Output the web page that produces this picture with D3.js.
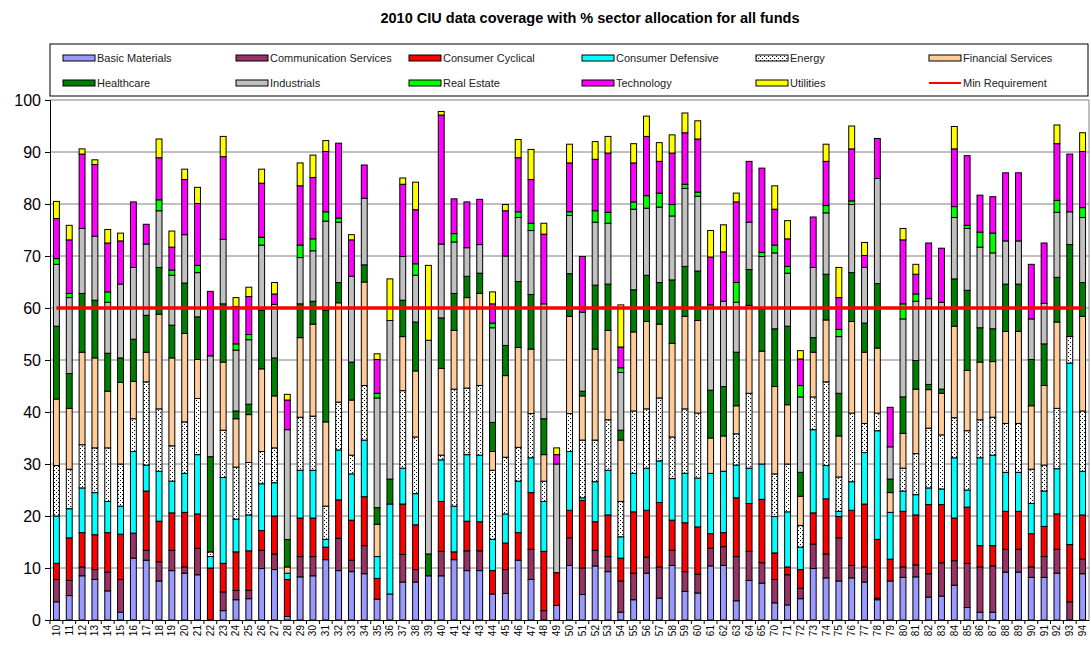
<!DOCTYPE html>
<html><head><meta charset="utf-8">
<script src="https://cdn.jsdelivr.net/npm/d3@7"></script>
<style>body{margin:0;background:#fff}svg{display:block;font-family:"Liberation Sans",Arial,sans-serif}</style>
</head><body><svg id="c" width="1091" height="650"></svg>
<script>
const categories = ["10","11","12","13","14","15","16","17","18","19","20","21","22","23","24","25","26","27","28","29","30","31","32","33","34","35","36","37","38","39","40","41","42","43","44","45","46","47","48","49","50","51","52","53","54","55","56","57","58","59","60","61","62","63","64","65","70","71","72","73","74","75","76","77","78","79","80","81","82","83","84","85","86","87","88","89","90","91","92","93","94"];
const seriesNames = ["Basic Materials","Communication  Services","Consumer Cyclical","Consumer Defensive","Energy","Financial Services","Healthcare","Industrials","Real Estate","Technology","Utilities"];
const basicMaterials = [3.5,4.7,8.5,7.8,5.6,1.5,11.9,11.5,7.5,9.5, 9.0,8.7,0,1.8,3.9,4.1,9.9,9.7,0.7,8.3, 8.5,11.6,9.5,9.3,8.9,4.0,5.0,7.3,7.3,8.5, 8.5,11.6,9.5,9.5,5.0,5.1,11.5,7.8,0,2.8, 10.5,4.9,10.4,9.3,1.5,3.9,9.0,4.2,10.5,5.5, 5.2,10.4,10.5,3.7,7.6,7.1, 3.3,2.9,4.1,9.9,8.1,7.5,8.1,7.3,3.9,7.5, 8.2,8.3,4.4,4.6,6.7,2.4,1.5,1.5,9.2,9.2, 8.2,8.2,9.0,0,8.9];
const communicationServices = [4.3,2.9,1.7,1.9,3.6,6.3,4.8,1.9,3.7,3.9, 1.2,5.1,0,3.6,1.8,1.6,3.5,3.0,0,3.9, 3.7,0,6.2,2.2,5.4,0,0,5.3,2.4,0, 4.7,0,3.8,3.8,0,4.6,0,5.8,1.8,0, 5.3,5.1,3.0,2.9,6.0,5.1,3.1,6.0,2.9,3.8, 3.6,3.4,3.6,8.5,5.6,3.9, 4.5,5.8,2.0,4.7,4.6,8.3,2.4,2.9,0.3,0, 2.0,2.3,4.5,6.4,4.7,8.5,8.7,8.9,4.4,4.4, 2.0,4.0,4.6,3.5,2.8];
const consumerCyclical = [3.1,8.2,6.6,6.7,7.6,8.7,0,11.4,7.8,7.2, 10.5,6.6,10.0,5.5,7.4,7.6,3.8,7.3,7.1,7.4, 7.4,2.4,7.4,7.7,9.4,4.0,0,9.7,8.6,0, 9.6,1.5,5.7,5.6,4.5,5.1,5.3,10.9,11.4,6.3, 5.3,13.0,5.5,8.0,4.4,11.8,9.0,12.4,5.8,9.4, 9.1,2.8,2.7,11.3,9.2,12.2, 5.1,1.5,3.6,6.0,10.6,4.1,10.6,12.1,11.3,4.2, 10.7,9.6,13.3,11.2,8.2,10.8,4.1,3.9,7.3,7.3, 6.4,5.8,6.8,11.0,8.5];
const consumerDefensive = [9.1,5.6,8.6,8.1,6.0,5.4,15.7,5.0,9.6,6.1, 7.5,11.4,2.2,16.5,6.3,6.9,9.0,6.4,1.2,9.2, 9.2,1.5,9.6,8.9,10.9,4.2,17.3,6.9,6.0,0, 8.0,8.8,12.8,12.8,6.0,5.6,9.9,6.7,9.6,0, 11.3,0.5,7.7,8.6,4.1,7.4,8.1,8.0,8.0,9.5, 9.4,11.6,11.8,6.3,6.8,6.8, 7.0,10.6,4.3,16.0,6.4,1.0,5.5,9.9,20.9,9.0, 3.9,3.9,3.2,3.0,11.6,3.3,16.9,17.4,7.5,7.5, 5.8,6.8,8.7,34.9,8.4];
const energy = [9.7,7.6,8.3,8.6,10.3,8.1,6.3,16.0,12.0,6.8, 9.9,10.8,0.9,9.1,10.0,10.1,6.2,6.7,0,10.2, 10.4,6.4,9.2,3.6,10.5,0,0,14.9,10.9,0, 0.9,22.5,12.8,13.4,13.3,10.9,6.5,8.5,3.9,0, 7.3,11.1,8.0,9.7,6.8,12.0,11.4,12.1,8.0,12.4, 12.5,0,0,6.0,14.4,0, 8.2,9.2,4.2,6.3,16.1,6.6,13.2,5.6,3.4,0, 4.4,7.9,11.5,10.4,7.7,11.4,7.3,7.3,9.4,9.4, 6.6,5.0,11.6,5.1,11.6];
const financialServices = [12.8,11.7,17.8,17.3,10.9,15.7,7.2,5.7,18.2,16.9, 17.0,7.5,0,13.1,9.3,9.2,15.9,10.0,1.2,15.3, 17.7,16.2,19.1,10.6,19.9,6.2,0,10.4,12.7,0, 16.7,11.3,17.4,17.7,3.6,15.7,19.2,12.4,5.1,0, 18.7,8.5,17.5,17.2,11.8,15.2,16.8,14.2,18.0,17.8, 17.8,6.8,6.8,5.4,16.9,21.7, 16.8,11.4,5.6,8.6,11.9,7.9,17.6,13.7,12.5,3.8, 6.7,12.4,7.4,8.0,17.6,11.6,11.1,10.7,17.7,17.7, 12.2,15.3,16.6,0,18.2];
const healthcare = [14.0,6.7,11.3,11.1,7.3,4.7,8.1,7.1,9.0,6.3, 9.7,8.2,18.3,11.2,1.5,2.0,11.3,7.3,5.3,6.5, 4.4,21.5,3.9,7.3,3.3,3.2,4.8,7.0,9.4,4.2, 9.7,7.1,4.1,3.9,5.6,5.8,12.7,10.5,6.9,0, 8.2,0.9,12.3,8.9,1.9,8.1,8.9,8.0,12.2,9.6, 9.5,9.2,9.5,10.3,6.9,8.1, 11.1,15.1,4.6,2.8,8.8,8.2,9.4,5.6,12.4,2.6, 7.0,5.5,1.0,0.8,9.1,15.4,6.6,6.3,9.1,9.1, 8.9,8.0,8.6,17.7,6.5];
const industrials = [11.9,14.6,12.5,12.3,9.8,14.2,13.8,13.7,10.9,9.6, 9.3,8.5,19.4,12.4,11.7,12.4,12.5,10.3,21.1,8.9, 9.7,17.1,11.6,16.5,12.8,21.1,30.5,8.4,9.0,41.1, 14.2,9.9,5.5,5.5,18.2,17.2,12.3,12.3,22.1,20.9, 11.2,15.2,12.1,11.7,11.1,15.5,12.9,14.5,12.3,15.0, 14.4,16.4,16.4,9.6,9.1,10.1, 14.6,10.2,14.5,13.5,11.8,10.9,13.1,10.7,20.2,6.2, 15.0,11.4,16.5,16.7,11.8,11.9,15.5,14.6,8.3,8.3, 7.8,7.8,12.5,6.3,12.5];
const realEstate = [1.1,0.8,0,0,2.0,0,0,0,2.1,1.0, 0,1.4,0,0,1.2,1.0,1.5,0,0,2.4, 2.3,1.8,0.8,0,0,0.9,0,0,2.2,0, 0,1.6,0,0,0.9,0,1.1,1.4,0,0, 0.7,0,2.2,2.1,0.9,1.4,2.4,2.7,2.2,0.8, 0.8,0,0,3.8,0,0.8, 1.5,1.3,2.2,0,1.4,1.4,0.7,0,0,0, 2.9,1.4,0,0,2.1,0.6,2.9,3.8,0,0, 0,0,2.3,0,1.9];
const technology = [7.7,10.3,14.3,13.8,9.4,8.3,12.6,3.8,8.1,4.4, 10.6,11.9,12.4,15.9,7.2,7.3,10.4,2.0,5.7,11.4, 11.8,11.6,14.4,7.0,6.4,6.5,0,13.9,10.4,0, 24.8,6.7,8.8,8.7,3.7,8.7,10.4,8.4,13.4,1.8, 9.4,10.7,9.9,11.4,4.0,7.5,11.4,6.1,9.9,9.9, 10.2,9.2,9.5,15.5,11.7,16.2, 6.9,5.3,5.1,9.7,8.5,6.1,10.0,2.3,7.7,7.6, 12.3,3.8,10.7,10.4,11.1,13.4,7.1,7.0,13.1,13.1, 10.5,11.6,10.9,11.1,10.8];
const utilities = [3.3,2.8,1.0,0.9,2.6,1.5,0,0,3.6,3.1, 2.0,3.1,0,3.9,1.7,1.8,2.7,2.2,1.1,4.4, 4.3,2.1,0,1.0,0,1.1,8.0,1.2,5.3,14.4, 0.7,0,0,0,2.3,1.2,3.5,5.8,2.1,1.3, 3.6,0,3.4,3.2,8.1,3.7,3.9,3.6,3.5,3.8, 3.5,5.1,5.2,1.7,0,0, 4.5,3.5,1.6,0,3.3,5.8,4.4,2.5,0,0, 2.2,1.9,0,0,4.3,0,0,0,0,0, 0,0,3.6,0,3.6];
const minRequirement = 60;
const yTicks = [0,10,20,30,40,50,60,70,80,90,100];
const colors = ["#9999FF","#993366","#FF0000","#00FFFF","url(#energyPat)","#FFCC99","#008000","#C0C0C0","#00FF00","#FF00FF","#FFFF00"];
const seriesData = [basicMaterials,communicationServices,consumerCyclical,consumerDefensive,energy,financialServices,healthcare,industrials,realEstate,technology,utilities];

const svg = d3.select("#c");
const defs = svg.append("defs");
const pat = defs.append("pattern").attr("id","energyPat").attr("patternUnits","userSpaceOnUse").attr("width",4).attr("height",4);
pat.append("rect").attr("width",4).attr("height",4).attr("fill","#fff");
pat.append("path").attr("d","M0,0h1v1h-1z M2,2h1v1h-1z").attr("fill","#000");

const L=50, R=1089, T=100, B=620;
const x = d3.scaleBand().domain(categories).range([L,R]).padding(0);
const y = d3.scaleLinear().domain([0,100]).range([B,T]);
const bw = x.bandwidth()*0.46;

// title
svg.append("text").attr("x",590).attr("y",23).attr("text-anchor","middle").attr("font-weight","bold").attr("font-size",14.5).text("2010 CIU data coverage with % sector allocation for all funds");

// gridlines
svg.append("g").selectAll("line").data(yTicks.filter(d=>d>0)).join("line")
  .attr("x1",L).attr("x2",R).attr("y1",d=>y(d)).attr("y2",d=>y(d)).attr("stroke","#808080").attr("stroke-width",1);
svg.append("line").attr("x1",R).attr("x2",R).attr("y1",T).attr("y2",B).attr("stroke","#808080");

// stacked data
const table = categories.map((c,i)=>{const o={cat:c}; seriesNames.forEach((s,j)=>o[s]=seriesData[j][i]); return o;});
const stack = d3.stack().keys(seriesNames)(table);
const g = svg.append("g");
stack.forEach((layer,j)=>{
  g.append("g").selectAll("rect").data(layer.filter(d=>d[1]-d[0]>0)).join("rect")
    .attr("x",d=>x(d.data.cat)+(x.bandwidth()-bw)/2)
    .attr("y",d=>y(d[1]))
    .attr("width",bw)
    .attr("height",d=>y(d[0])-y(d[1]))
    .attr("fill",colors[j]).attr("stroke","#000").attr("stroke-width",1);
});

// axes
const ya = svg.append("g").attr("transform",`translate(${L},0)`).call(d3.axisLeft(y).tickValues(yTicks).tickSize(5).tickPadding(4));
ya.select(".domain").attr("stroke","#000");
ya.selectAll("text").attr("font-size",16).attr("font-family","'Liberation Sans',Arial,sans-serif").attr("fill","#000");
const xa = svg.append("g").attr("transform",`translate(0,${B})`).call(d3.axisBottom(x).tickSize(0).tickSizeOuter(0));
xa.select(".domain").attr("stroke","#000");
xa.selectAll("text").attr("font-size",10).attr("font-family","'Liberation Sans',Arial,sans-serif").attr("fill","#000")
  .attr("transform","rotate(-90)").attr("text-anchor","end").attr("x",-5).attr("y",0).attr("dy","0.35em");
svg.append("g").selectAll("line").data(categories).join("line")
  .attr("x1",d=>x(d)).attr("x2",d=>x(d)).attr("y1",B).attr("y2",B+4).attr("stroke","#000");

// min requirement line
const first = categories[0], last = categories[categories.length-1];
svg.append("line").attr("x1",x(first)+x.bandwidth()/2).attr("x2",x(last)+x.bandwidth()/2)
  .attr("y1",y(minRequirement)).attr("y2",y(minRequirement)).attr("stroke","#FF0000").attr("stroke-width",3.5);

// legend
svg.append("rect").attr("x",L).attr("y",44).attr("width",R-L-1).attr("height",52).attr("fill","#fff").attr("stroke","#000");
const legendItems = seriesNames.map((s,j)=>({name:s.replace("  "," "),color:colors[j],type:"rect"})).concat([{name:"Min Requirement",color:"#FF0000",type:"line"}]);
const colX = [63,236,409,582,756,929], rowY = [58,83];
legendItems.forEach((d,i)=>{
  const cx = colX[i%6], cy = rowY[Math.floor(i/6)];
  if(d.type==="rect") svg.append("rect").attr("x",cx).attr("y",cy-3).attr("width",32).attr("height",6).attr("fill",d.color).attr("stroke","#000");
  else svg.append("line").attr("x1",cx).attr("x2",cx+32).attr("y1",cy).attr("y2",cy).attr("stroke",d.color).attr("stroke-width",2);
  svg.append("text").attr("x",cx+34).attr("y",cy).attr("dy","0.35em").attr("font-size",11).attr("fill","#222").text(d.name);
});
</script></body></html>
